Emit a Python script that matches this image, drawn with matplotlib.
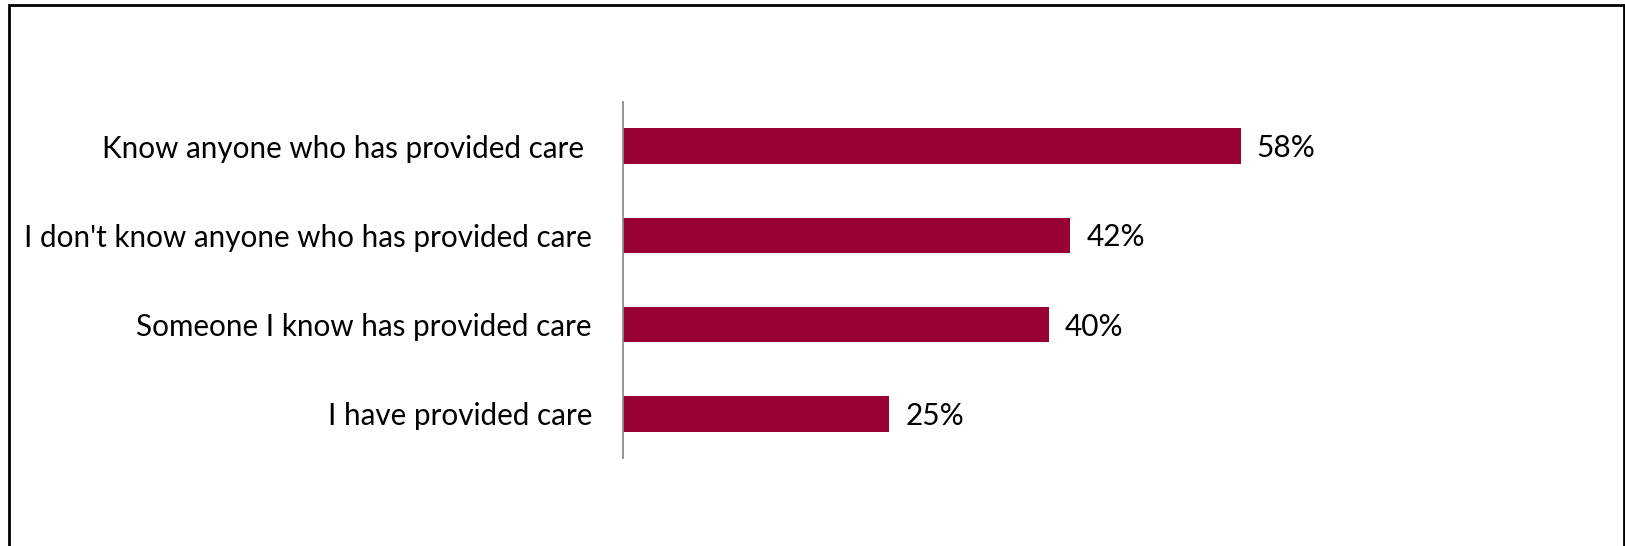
import matplotlib
matplotlib.use("Agg")
import matplotlib.pyplot as plt
from matplotlib.patches import Rectangle

categories = ["Know anyone who has provided care ",
              "I don't know anyone who has provided care",
              "Someone I know has provided care",
              "I have provided care"]
values = [58, 42, 40, 25]
value_labels = ["58%", "42%", "40%", "25%"]

plt.rcParams['font.family'] = ['Lato', 'DejaVu Sans']

W, H = 1625, 546
fig = plt.figure(figsize=(W / 100, H / 100), dpi=100)

ax_left = 623 / W
ax_bottom = 1 - 458.3 / H
ax_height = 356.6 / H
xmax = 90
ax_width = xmax * 10.65 / W
ax = fig.add_axes([ax_left, ax_bottom, ax_width, ax_height])

y = list(range(len(categories)))
ax.barh(y, values, height=0.4, color='#990033', edgecolor='none')
ax.set_ylim(len(categories) - 0.5, -0.5)
ax.set_xlim(0, xmax)

for yi, v, lab in zip(y, values, value_labels):
    ax.annotate(lab, (v, yi), xytext=(16, -2), textcoords='offset pixels',
                va='center', ha='left', fontsize=21.5, color='black')

ax.set_yticks(y)
ax.set_yticklabels(categories, fontsize=21.3)
ax.tick_params(axis='y', length=0, pad=31 * 72 / 100)
ax.set_xticks([])
for s in ['top', 'right', 'bottom']:
    ax.spines[s].set_visible(False)
ax.spines['left'].set_color('#8c8c8c')
ax.spines['left'].set_linewidth(1.3)

border = Rectangle((8.5 / W, -0.05), (1624 - 8.5) / W, 1.05 - 5 / H,
                   transform=fig.transFigure, fill=False, edgecolor='black',
                   linewidth=2.0, clip_on=False)
fig.patches.append(border)

fig.savefig("out.png", dpi=100)
